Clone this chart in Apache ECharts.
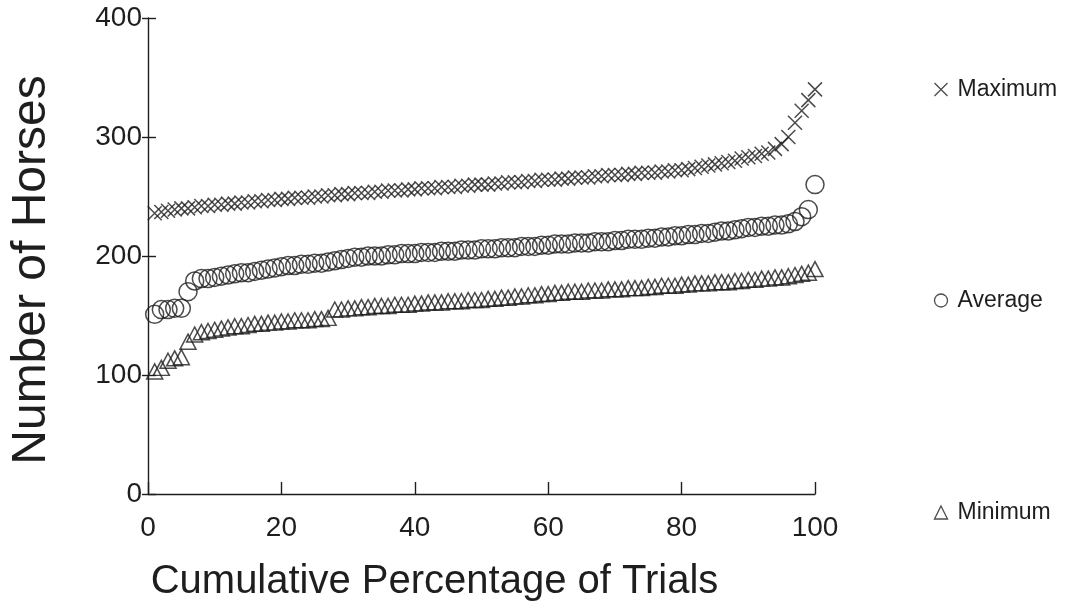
<!DOCTYPE html>
<html>
<head>
<meta charset="utf-8">
<script src="https://cdn.jsdelivr.net/npm/echarts@6/dist/echarts.min.js"></script>
<style>
  html, body { margin: 0; padding: 0; background: #fff; }
  #chart { width: 1070px; height: 616px; }
</style>
</head>
<body>
<div id="chart"></div>
<script>
// cumulative percentage of trials (x)
const trials = [];
for (let i = 1; i <= 100; i++) trials.push(i);

// number of horses
const maximum = [
  236, 237, 238, 239, 240, 240, 241, 242, 242, 243,
  243, 244, 244, 245, 245, 246, 246, 247, 247, 248,
  248, 249, 249, 249, 250, 250, 251, 251, 252, 252,
  253, 253, 253, 254, 254, 255, 255, 255, 256, 256,
  257, 257, 257, 258, 258, 258, 259, 259, 260, 260,
  260, 261, 261, 262, 262, 262, 263, 263, 264, 264,
  264, 265, 265, 266, 266, 266, 267, 267, 268, 268,
  268, 269, 269, 270, 270, 270, 271, 271, 272, 272,
  273, 274, 275, 276, 277, 278, 279, 280, 282, 283,
  284, 286, 287, 290, 294, 300, 312, 322, 331, 340
];
const average = [
  151, 155, 155, 156, 156, 170, 179, 181, 181, 182,
  183, 184, 185, 186, 186, 187, 188, 189, 190, 191,
  192, 192, 193, 193, 194, 194, 195, 196, 197, 198,
  199, 199, 200, 200, 200, 201, 201, 202, 202, 202,
  203, 203, 203, 204, 204, 204, 205, 205, 205, 206,
  206, 206, 207, 207, 207, 208, 208, 208, 209, 209,
  210, 210, 210, 211, 211, 211, 212, 212, 212, 213,
  213, 214, 214, 214, 215, 215, 216, 216, 217, 217,
  218, 218, 219, 219, 220, 221, 221, 222, 223, 224,
  224, 225, 225, 226, 226, 227, 229, 233, 239, 260
];
const minimum = [
  103, 106, 112, 114, 115, 128, 134, 136, 137, 138,
  139, 140, 141, 141, 142, 143, 143, 144, 144, 145,
  145, 146, 146, 146, 147, 147, 148, 155, 155, 156,
  156, 157, 157, 158, 158, 158, 159, 159, 159, 160,
  160, 161, 161, 161, 162, 162, 162, 163, 163, 163,
  164, 164, 165, 165, 166, 166, 167, 167, 168, 168,
  169, 169, 170, 170, 170, 171, 171, 171, 172, 172,
  172, 173, 173, 173, 174, 174, 175, 175, 175, 176,
  176, 177, 177, 177, 178, 178, 178, 179, 179, 180,
  180, 181, 181, 182, 182, 183, 184, 185, 186, 189
];

const xTicks = [0, 20, 40, 60, 80, 100];
const yTicks = [0, 100, 200, 300, 400];

const INK = '#1e1e1e';
const FONT = "'Liberation Sans', Arial, sans-serif";
const CROSS = 'path://M0,0L10,10M10,0L0,10';

function pairs(ys) {
  return trials.map((x, i) => [x, ys[i]]);
}

function legendAt(name, top, icon) {
  return {
    data: [{ name: name, icon: icon }],
    left: 927,
    top: top,
    orient: 'vertical',
    itemWidth: 13,
    itemHeight: 13,
    itemGap: 10,
    selectedMode: false,
    textStyle: { fontFamily: FONT, fontSize: 23, color: INK, padding: [0, 0, 0, 5] },
    itemStyle: { color: 'none', borderColor: INK, borderWidth: 1.3 }
  };
}

const chart = echarts.init(document.getElementById('chart'), null, { renderer: 'canvas' });

const seriesStyle = { color: 'none', borderColor: INK, borderWidth: 1.5 };

chart.setOption({
  backgroundColor: '#fff',
  animation: false,
  textStyle: { fontFamily: FONT, color: INK },
  grid: { left: 147, right: 255, top: 18, bottom: 122 },
  legend: [
    legendAt('Maximum', 73, CROSS),
    legendAt('Average', 284, 'circle'),
    legendAt('Minimum', 496, 'triangle')
  ],
  xAxis: {
    type: 'value',
    min: xTicks[0],
    max: xTicks[xTicks.length - 1],
    interval: 20,
    name: 'Cumulative Percentage of Trials',
    nameLocation: 'middle',
    nameGap: 68,
    nameTextStyle: { fontFamily: FONT, fontSize: 40, color: INK, padding: [0, 94, 0, 0] },
    axisLine: { show: true, lineStyle: { color: INK, width: 1.4 } },
    axisTick: { show: true, inside: true, length: 12, lineStyle: { color: INK, width: 1.4 } },
    axisLabel: { fontFamily: FONT, fontSize: 28, color: INK, margin: 20 },
    splitLine: { show: false }
  },
  yAxis: [
    {
      type: 'value',
      min: yTicks[0],
      max: yTicks[yTicks.length - 1],
      interval: 100,
      name: 'Number of Horses',
      nameLocation: 'middle',
      nameGap: 92,
      nameTextStyle: { fontFamily: FONT, fontSize: 48, color: INK, padding: [0, 28, 0, 0] },
      axisLine: { show: true, lineStyle: { color: INK, width: 1.4 } },
      axisTick: { show: true, length: 6, lineStyle: { color: INK, width: 1.4 } },
      axisLabel: { fontFamily: FONT, fontSize: 28, color: INK, margin: 6 },
      splitLine: { show: false }
    },
    {
      type: 'value',
      position: 'left',
      min: yTicks[0],
      max: yTicks[yTicks.length - 1],
      interval: 100,
      axisLine: { show: false },
      axisTick: { show: true, inside: true, length: 8, lineStyle: { color: INK, width: 1.4 } },
      axisLabel: { show: false },
      splitLine: { show: false }
    }
  ],
  series: [
    {
      name: 'Maximum',
      type: 'scatter',
      symbol: CROSS,
      symbolSize: 14,
      itemStyle: seriesStyle,
      data: pairs(maximum)
    },
    {
      name: 'Average',
      type: 'scatter',
      symbol: 'circle',
      symbolSize: 18,
      itemStyle: seriesStyle,
      data: pairs(average)
    },
    {
      name: 'Minimum',
      type: 'scatter',
      symbol: 'triangle',
      symbolSize: [16, 15],
      itemStyle: seriesStyle,
      data: pairs(minimum)
    }
  ]
});
</script>
</body>
</html>
